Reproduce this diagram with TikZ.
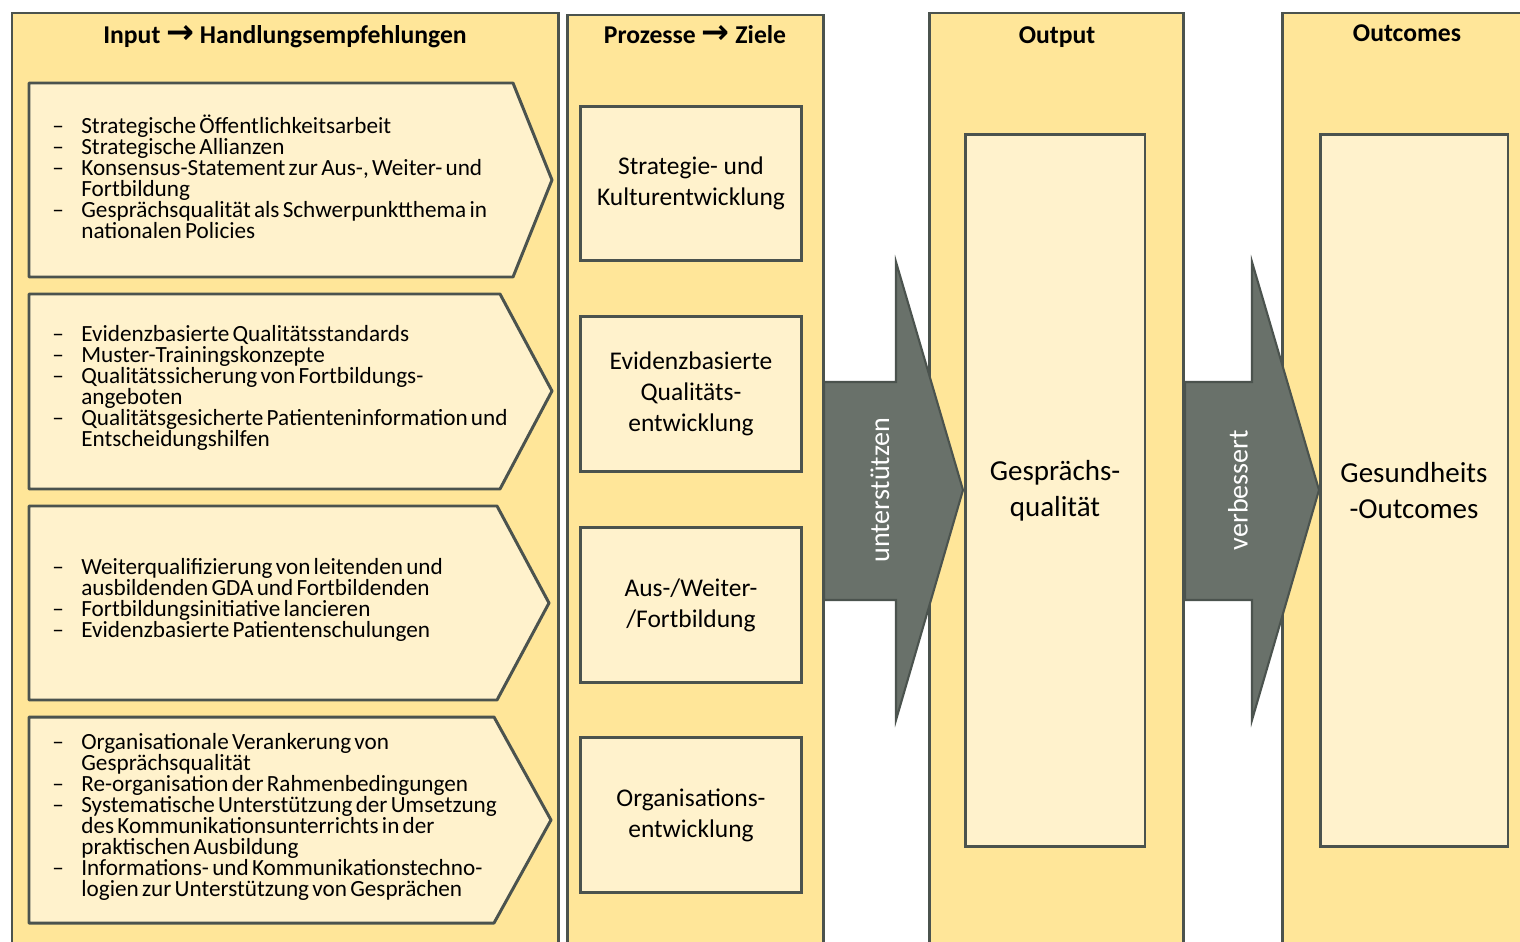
\documentclass[tikz,border=0pt]{standalone}
\usepackage{fontspec}
\setmainfont{Carlito}
\newfontfamily\arrowfont{DejaVu Sans}
\usetikzlibrary{positioning}

\definecolor{colfill}{HTML}{FFE699}
\definecolor{boxfill}{HTML}{FFF2CC}
\definecolor{edge}{HTML}{4B534E}
\definecolor{arrowfill}{HTML}{69716A}

% arrow glyph in the column titles
\newcommand{\hdarrow}{{\arrowfont\bfseries\fontsize{19}{17}\selectfont →}}
% one bullet item with hanging indent and tight word spaces
\newcommand{\itm}[1]{\spaceskip=0.14em plus 0.05em minus 0.02em\relax
	\hangindent=0.58cm\hangafter=1\noindent\makebox[0.58cm][l]{–}#1\par}

\begin{document}
\begin{tikzpicture}[x=0.02cm,y=-0.02cm,
	column/.style={draw=edge,fill=colfill,line width=1.7pt},
	chevron/.style={draw=edge,fill=boxfill,line width=1.7pt,line join=round},
	innerbox/.style={draw=edge,fill=boxfill,line width=1.7pt},
	procbox/.style={innerbox,minimum width=4.42cm,minimum height=3.1cm,align=center,font=\fontsize{14.5}{17.6}\selectfont},
	itemtext/.style={anchor=west,text width=9.6cm,inner sep=0pt,align=left,font=\fontsize{13.2}{11.95}\selectfont},
	header/.style={font=\fontsize{14.6}{17}\selectfont\bfseries},
	blockarrow/.style={draw=edge,fill=arrowfill,line width=1.2pt,line join=miter},
	arrowlabel/.style={white,rotate=90,font=\fontsize{16}{19}\selectfont},
	bigtext/.style={align=center,font=\fontsize{16.5}{20.3}\selectfont}]
	
	\useasboundingbox (0,0) rectangle (1520,942);
	\clip (0,0) rectangle (1520,942);
	
	% COLUMNS (open at the bottom)
	\draw[column] (12,13) rectangle (558,960);
	\draw[column] (567,15) rectangle (823,960);
	\draw[column] (929,13) rectangle (1183,960);
	\draw[column] (1282,13) rectangle (1530,960);
	
	% COLUMN TITLES
	\node[header] (hdinput) at (285,37) {Input \hdarrow{} Handlungsempfehlungen};
	\node[header] (hdprocess) at (695,35) {Prozesse \hdarrow{} Ziele};
	\node[header] (hdoutput) at (1057,37) {Output};
	\node[header] (hdoutcome) at (1407,33) {Outcomes};
	
	% INPUT CHEVRONS
	\draw[chevron] (29,83) -- (513,83) -- (552,180) -- (513,277) -- (29,277) -- cycle;
	\draw[chevron] (29,294) -- (500,294) -- (552,391) -- (500,489) -- (29,489) -- cycle;
	\draw[chevron] (29,506) -- (497,506) -- (549,603) -- (497,700) -- (29,700) -- cycle;
	\draw[chevron] (29,717) -- (494,717) -- (551,820) -- (494,923) -- (29,923) -- cycle;
	
	% RECOMMENDATIONS
	\node[itemtext] (inone) at (52,177) {%
		\itm{Strategische Öffentlichkeitsarbeit}
		\itm{Strategische Allianzen}
		\itm{Konsensus-Statement zur Aus-, Weiter- und\newline Fortbildung}
		\itm{Gesprächsqualität als Schwerpunktthema in\newline nationalen Policies}};
	\node[itemtext] (intwo) at (52,388) {%
		\itm{Evidenzbasierte Qualitätsstandards}
		\itm{Muster-Trainingskonzepte}
		\itm{Qualitätssicherung von Fortbildungs-\newline angeboten}
		\itm{Qualitätsgesicherte Patienteninformation und\newline Entscheidungshilfen}};
	\node[itemtext] (inthree) at (52,600) {%
		\itm{Weiterqualifizierung von leitenden und\newline ausbildenden GDA und Fortbildenden}
		\itm{Fortbildungsinitiative lancieren}
		\itm{Evidenzbasierte Patientenschulungen}};
	\node[itemtext] (infour) at (52,817) {%
		\itm{Organisationale Verankerung von\newline Gesprächsqualität}
		\itm{Re-organisation der Rahmenbedingungen}
		\itm{Systematische Unterstützung der Umsetzung\newline des Kommunikationsunterrichts in der\newline praktischen Ausbildung}
		\itm{Informations- und Kommunikationstechno-\newline logien zur Unterstützung von Gesprächen}};
	
	% PROCESSES
	\node[procbox] (procone) at (691,183.5) {Strategie- und\\Kulturentwicklung};
	\node[procbox] (proctwo) at (691,394) {Evidenzbasierte\\Qualitäts-\\entwicklung};
	\node[procbox] (procthree) at (691,605) {Aus-/Weiter-\\/Fortbildung};
	\node[procbox] (procfour) at (691,815) {Organisations-\\entwicklung};
	
	% OUTPUT AND OUTCOME
	\node[innerbox,bigtext,minimum width=3.6cm,minimum height=14.26cm] (quality) at (1055,490.5) {Gesprächs-\\qualität};
	\node[innerbox,bigtext,minimum width=3.76cm,minimum height=14.26cm] (health) at (1414,490.5) {Gesundheits\\-Outcomes};
	
	% BLOCK ARROWS
	\draw[blockarrow] (824,382) -- (896,382) -- (896,262) -- (963,490) -- (896,720) -- (896,600) -- (824,600) -- cycle;
	\draw[blockarrow] (1185,382) -- (1252,382) -- (1252,262) -- (1319,490) -- (1252,720) -- (1252,600) -- (1185,600) -- cycle;
	\node[arrowlabel] (lblsupport) at (880,490) {unterstützen};
	\node[arrowlabel] (lblimprove) at (1238,490) {verbessert};
\end{tikzpicture}
\end{document}
